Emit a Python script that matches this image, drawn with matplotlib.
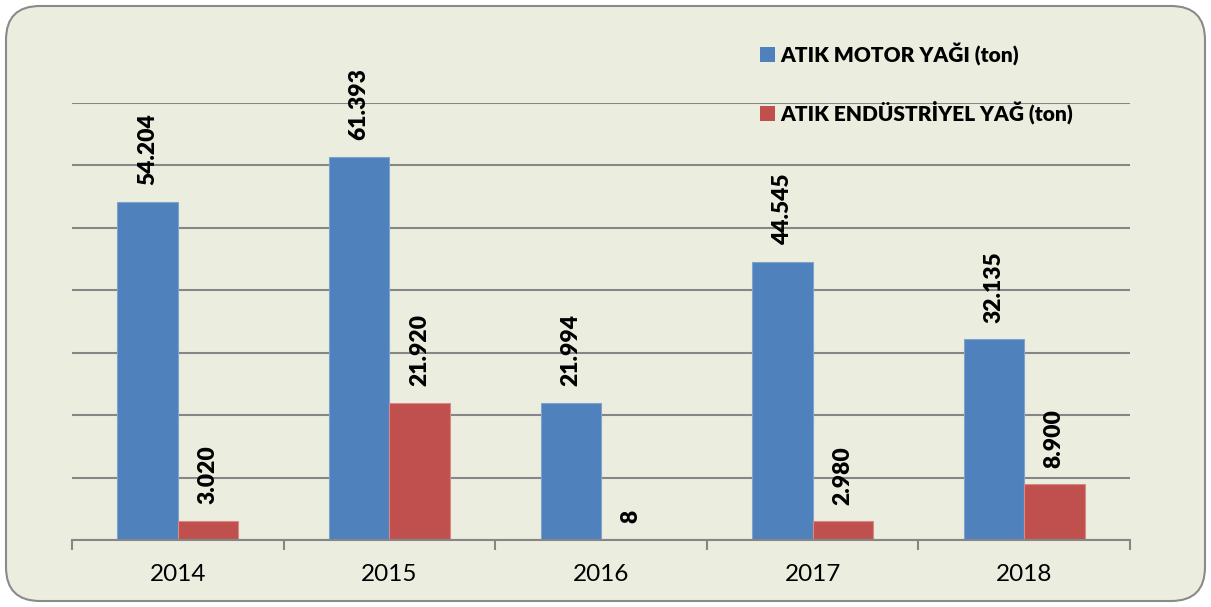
import matplotlib
matplotlib.use("Agg")
import matplotlib.pyplot as plt
from matplotlib.patches import FancyBboxPatch, Patch
import numpy as np

years = ["2014", "2015", "2016", "2017", "2018"]
motor = [54204, 61393, 21994, 44545, 32135]
endustriyel = [3020, 21920, 8, 2980, 8900]
motor_labels = ["54.204", "61.393", "21.994", "44.545", "32.135"]
endu_labels = ["3.020", "21.920", "8", "2.980", "8.900"]
series_names = ["ATIK MOTOR YAĞI (ton)", "ATIK ENDÜSTRİYEL YAĞ (ton)"]

W, H = 1211, 607
fig = plt.figure(figsize=(W / 100, H / 100), dpi=100)
bg = "#EBEEDF"
fig.patch.set_facecolor("white")
border = FancyBboxPatch((6 / W, 6 / H), (W - 12) / W, (H - 12) / H,
                        boxstyle="round,pad=0,rounding_size=0.028",
                        transform=fig.transFigure, facecolor=bg,
                        edgecolor="#8A8A8A", linewidth=1.5, mutation_aspect=W / H,
                        zorder=-10)
fig.patches.append(border)

ax = fig.add_axes([72 / W, 1 - 540 / H, (1130 - 72) / W, (540 - 103) / H])
ax.set_zorder(2)
ax.set_facecolor("none")
x = np.arange(len(years))
bw = 0.285
c1, c2 = "#4F81BD", "#C0504D"
ax.bar(x - bw / 2, motor, bw, color=c1, edgecolor="#7FA2CF", linewidth=0.8, zorder=3)
ax.bar(x + bw / 2, endustriyel, bw, color=c2, edgecolor="#D98886", linewidth=0.8, zorder=3)

fnt = "Lato"
for xi, v, lab in zip(x, motor, motor_labels):
    ax.annotate(lab, (xi - bw / 2, v), xytext=(0, 12), textcoords="offset points",
                rotation=90, ha="center", va="bottom", fontsize=16.5,
                fontweight="heavy", family=fnt, zorder=4)
for xi, v, lab in zip(x, endustriyel, endu_labels):
    ax.annotate(lab, (xi + bw / 2, v), xytext=(0, 12), textcoords="offset points",
                rotation=90, ha="center", va="bottom", fontsize=16.5,
                fontweight="heavy", family=fnt, zorder=4)

ax.set_xlim(-0.5, len(years) - 0.5)
ax.set_ylim(0, 70000)
ax.set_yticks(np.arange(0, 70001, 10000))
ax.yaxis.grid(True, color="#868686", linewidth=1.5, zorder=0)
ax.set_axisbelow(True)
ax.tick_params(axis="y", left=False, labelleft=False)
for s in ["top", "right", "left"]:
    ax.spines[s].set_visible(False)
ax.spines["bottom"].set_color("#868686")
ax.spines["bottom"].set_linewidth(1.5)
ax.spines["bottom"].set_zorder(5)
ax.set_xticks(np.arange(-0.5, len(years), 1.0))
ax.set_xticklabels([])
ax.tick_params(axis="x", which="major", length=7, width=1.5, color="#868686")
ax.set_xticks(x, minor=True)
ax.set_xticklabels(years, minor=True, fontsize=17.5, family=fnt)
ax.tick_params(axis="x", which="minor", length=0, pad=17)

handles = [Patch(facecolor=c1), Patch(facecolor=c2)]
leg = fig.legend(handles, series_names, loc="upper left",
                 bbox_to_anchor=(752 / W, 1 - 34 / H), frameon=False,
                 prop={"family": fnt, "weight": "heavy", "size": 15},
                 handlelength=0.68, handleheight=0.68, handletextpad=0.3,
                 labelspacing=1.7, borderaxespad=0)

fig.savefig("out.png", dpi=100, facecolor="white")
